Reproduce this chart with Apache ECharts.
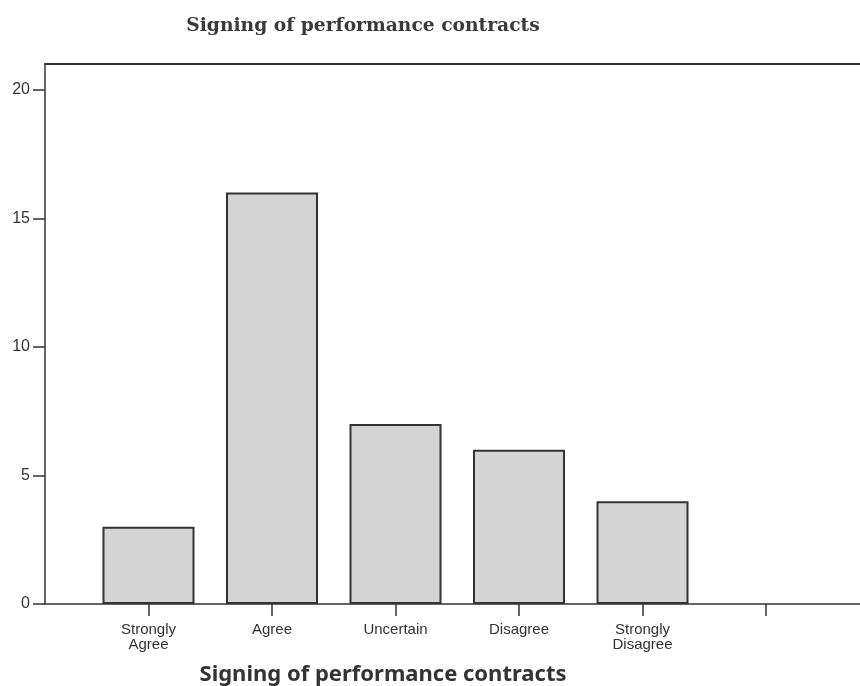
<!DOCTYPE html>
<html><head><meta charset="utf-8">
<script src="https://cdn.jsdelivr.net/npm/echarts@6/dist/echarts.min.js"></script>
<style>html,body{margin:0;padding:0;background:#fff}#c{width:860px;height:686px}</style>
</head><body><div id="c"></div>
<script>
const categories = ['Strongly\nAgree', 'Agree', 'Uncertain', 'Disagree', 'Strongly\nDisagree'];
const counts = [3, 16, 7, 6, 4];
const yTicks = [0, 5, 10, 15, 20];
const xTicks = [0, 1, 2, 3, 4, 5];
const titleText = 'Signing of performance contracts';

const X_MIN = -0.838, X_MAX = 5.761;
const chart = echarts.init(document.getElementById('c'));
chart.setOption({
  animation: false,
  backgroundColor: '#fff',
  title: [
    { text: titleText, left: 358, top: 12, textAlign: 'center',
      textStyle: { fontFamily: 'DejaVu Serif', fontWeight: 'bold', fontSize: 18.7, color: '#3a3a3a' } },
    { text: titleText, left: 378, top: 659, textAlign: 'center',
      textStyle: { fontFamily: 'Noto Sans', fontWeight: 'bold', fontSize: 22, color: '#333' } }
  ],
  grid: { left: 45, top: 64, right: 0, bottom: 82, show: false },
  xAxis: [{
    type: 'value', min: X_MIN, max: X_MAX,
    splitLine: { show: false },
    axisLine: { onZero: false, lineStyle: { color: '#333', width: 1.5 } },
    axisTick: { show: true, customValues: xTicks, length: 12, lineStyle: { color: '#333', width: 1.5 } },
    axisLabel: { customValues: [0, 1, 2, 3, 4], margin: 18, color: '#333', fontFamily: 'Liberation Sans', fontSize: 15, lineHeight: 15,
      formatter: v => categories[Math.round(v)] || '' }
  }, {
    type: 'value', position: 'top', min: X_MIN, max: X_MAX,
    splitLine: { show: false },
    axisLine: { show: true, onZero: false, lineStyle: { color: '#333', width: 2 } },
    axisTick: { show: false }, axisLabel: { show: false }
  }],
  yAxis: {
    type: 'value', min: 0, max: 21,
    splitLine: { show: false },
    axisLine: { show: true, onZero: false, lineStyle: { color: '#333', width: 1.5 } },
    axisTick: { show: true, customValues: yTicks, length: 12, lineStyle: { color: '#333', width: 1.5 } },
    axisLabel: { customValues: yTicks, margin: 15, color: '#333', fontFamily: 'Liberation Sans', fontSize: 16 }
  },
  series: [{
    type: 'bar',
    xAxisIndex: 0,
    data: counts.map((v, i) => [i, v]),
    barWidth: 92,
    itemStyle: { color: '#d4d4d4', borderColor: '#333', borderWidth: 2 }
  }]
});
</script></body></html>
